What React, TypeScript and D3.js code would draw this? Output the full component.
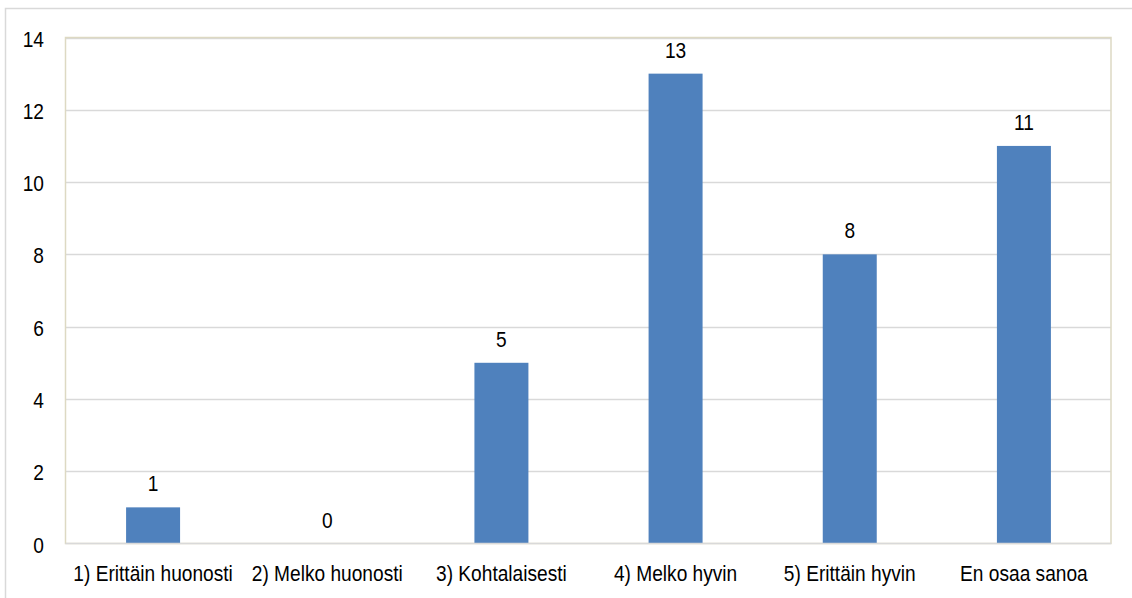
import React from "react";
import * as d3 from "d3";

const categories = [
  "1) Erittäin huonosti",
  "2) Melko huonosti",
  "3) Kohtalaisesti",
  "4) Melko hyvin",
  "5) Erittäin hyvin",
  "En osaa sanoa",
];
const values = [1, 0, 5, 13, 8, 11];
const yTicks = [0, 2, 4, 6, 8, 10, 12, 14];

const W = 1132;
const H = 598;
const left = 66;
const right = 1111;
const top = 37.5;
const bottom = 543.5;

export default function App() {
  const x = d3.scaleBand<string>().domain(categories).range([left, right]).padding(0);
  const y = d3.scaleLinear().domain([0, 14]).range([bottom, top]);
  const barW = x.bandwidth() * 0.31;
  const font = "'Liberation Sans', Arial, sans-serif";
  const sx = 0.87;
  const crisp = (v: number) => Math.round(v) + 0.5;

  return (
    <svg
      width={W}
      height={H}
      style={{ position: "absolute", left: 0, top: 0, background: "#fff" }}
      fontFamily={font}
    >
      <rect x={0} y={0} width={W} height={H} fill="#fff" />
      <rect x={5.5} y={8.5} width={W + 20} height={H + 20} fill="none" stroke="#d9d9d9" strokeWidth={1.5} />
      {yTicks.slice(1).map((t) => (
        <line key={t} x1={left} x2={right} y1={crisp(y(t))} y2={crisp(y(t))} stroke="#d9d9d9" strokeWidth={1.5} />
      ))}
      <rect
        x={left - 0.5}
        y={top}
        width={right - left + 0.5}
        height={bottom - top}
        fill="none"
        stroke="#ddd9c3"
        strokeWidth={1.5}
      />
      {categories.map((c, i) => {
        const cx = (x(c) as number) + x.bandwidth() / 2;
        const v = values[i];
        return (
          <g key={c}>
            {v > 0 && (
              <rect x={cx - barW / 2} y={y(v)} width={barW} height={y(0) - y(v)} fill="#4f81bd" />
            )}
            <text
              transform={`translate(${cx},${y(v) - 16}) scale(${sx},1)`}
              textAnchor="middle"
              fontSize={22}
              fill="#000"
            >
              {v}
            </text>
            <text
              transform={`translate(${cx},${581}) scale(${sx},1)`}
              textAnchor="middle"
              fontSize={22}
              fill="#000"
            >
              {c}
            </text>
          </g>
        );
      })}
      <line x1={left - 0.5} x2={right} y1={bottom} y2={bottom} stroke="#d9d9d9" strokeWidth={1.5} />
      {yTicks.map((t) => (
        <text
          key={t}
          transform={`translate(44,${y(t) + 9}) scale(${sx},1)`}
          textAnchor="end"
          fontSize={22}
          fill="#000"
        >
          {t}
        </text>
      ))}
    </svg>
  );
}
